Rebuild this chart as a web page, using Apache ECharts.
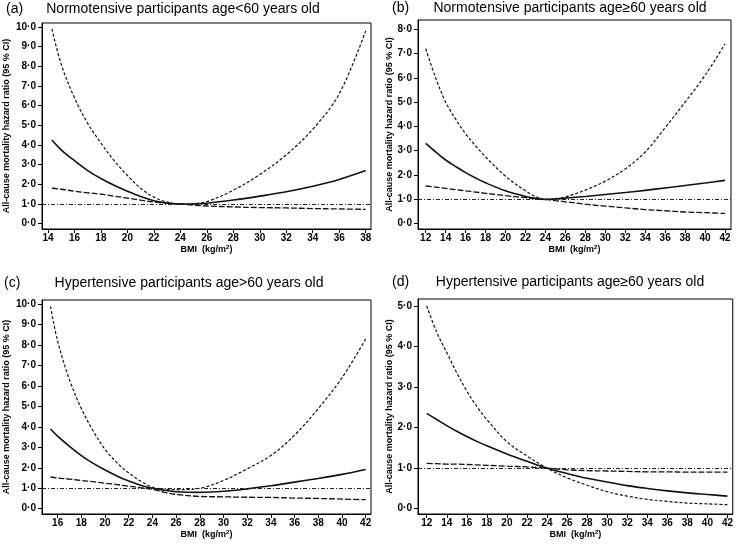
<!DOCTYPE html>
<html>
<head>
<meta charset="utf-8">
<script src="https://cdn.jsdelivr.net/npm/echarts@6/dist/echarts.min.js"></script>
<style>
  html, body { margin: 0; padding: 0; background: #fff; }
  #main { width: 736px; height: 548px; }
</style>
</head>
<body>
<div id="main"></div>
<script>
// ---- data ----
var titlesA = ['(a)', '(b)', '(c)', '(d)'];
var titles = [
  'Normotensive participants age<60 years old',
  'Normotensive participants age\u226560 years old',
  'Hypertensive participants age>60 years old',
  'Hypertensive participants age\u226560 years old'
];

// (a)
var bmiA   = [14.3, 15, 16, 17, 18, 19, 20, 21, 22, 23, 24, 25, 26, 28, 30, 32, 34, 36, 38];
var hrA    = [4.25, 3.75, 3.2, 2.7, 2.3, 1.95, 1.65, 1.38, 1.17, 1.05, 1.0, 1.0, 1.04, 1.2, 1.4, 1.62, 1.9, 2.25, 2.7];
var upA    = [9.9, 8.1, 6.4, 5.1, 4.1, 3.2, 2.45, 1.8, 1.35, 1.1, 1.0, 1.02, 1.12, 1.7, 2.5, 3.5, 4.8, 6.6, 9.8];
var loA    = [1.8, 1.75, 1.65, 1.57, 1.5, 1.4, 1.3, 1.2, 1.1, 1.04, 1.0, 0.94, 0.9, 0.85, 0.82, 0.8, 0.77, 0.75, 0.73];

// (b)
var bmiB   = [12, 13, 14, 15, 16, 17, 18, 20, 22, 23, 24, 25, 26, 28, 30, 32, 34, 36, 38, 40, 42];
var hrB    = [3.3, 2.95, 2.62, 2.35, 2.1, 1.88, 1.68, 1.35, 1.12, 1.04, 1.0, 1.02, 1.05, 1.12, 1.2, 1.28, 1.37, 1.47, 1.57, 1.67, 1.78];
var upB    = [7.2, 6.0, 5.0, 4.3, 3.7, 3.2, 2.75, 1.95, 1.35, 1.12, 1.0, 1.02, 1.1, 1.38, 1.75, 2.25, 2.95, 3.95, 5.0, 6.1, 7.4];
var loB    = [1.55, 1.5, 1.45, 1.4, 1.35, 1.3, 1.25, 1.15, 1.07, 1.03, 1.0, 0.95, 0.9, 0.8, 0.72, 0.65, 0.58, 0.53, 0.48, 0.45, 0.42];

// (c)
var bmiC   = [15.4, 16, 17, 18, 19, 20, 21, 22, 23, 24, 25, 26, 28, 30, 32, 34, 36, 38, 40, 42];
var hrC    = [3.9, 3.55, 3.05, 2.6, 2.22, 1.9, 1.6, 1.35, 1.15, 1.0, 0.9, 0.83, 0.8, 0.85, 0.97, 1.12, 1.3, 1.48, 1.68, 1.92];
var upC    = [9.9, 8.2, 6.3, 4.9, 3.8, 2.9, 2.25, 1.75, 1.35, 1.05, 0.95, 0.93, 1.0, 1.38, 1.95, 2.6, 3.6, 4.9, 6.4, 8.3];
var loC    = [1.55, 1.5, 1.45, 1.38, 1.32, 1.25, 1.18, 1.1, 1.03, 0.95, 0.8, 0.7, 0.6, 0.58, 0.56, 0.55, 0.52, 0.5, 0.47, 0.44];

// (d)
var bmiD   = [12, 13, 14, 15, 16, 17, 18, 20, 22, 24, 26, 28, 30, 32, 34, 36, 38, 40, 42];
var hrD    = [2.35, 2.2, 2.05, 1.91, 1.78, 1.66, 1.55, 1.35, 1.17, 1.0, 0.87, 0.75, 0.66, 0.57, 0.5, 0.44, 0.39, 0.35, 0.31];
var upD    = [5.0, 4.35, 3.85, 3.35, 2.9, 2.52, 2.2, 1.65, 1.3, 1.0, 0.76, 0.58, 0.42, 0.31, 0.23, 0.18, 0.14, 0.12, 0.1];
var loD    = [1.12, 1.11, 1.1, 1.1, 1.09, 1.08, 1.07, 1.05, 1.03, 1.0, 0.96, 0.94, 0.93, 0.92, 0.91, 0.91, 0.9, 0.9, 0.9];

var xTicksA = [14, 16, 18, 20, 22, 24, 26, 28, 30, 32, 34, 36, 38];
var xTicksB = [12, 14, 16, 18, 20, 22, 24, 26, 28, 30, 32, 34, 36, 38, 40, 42];
var xTicksC = [16, 18, 20, 22, 24, 26, 28, 30, 32, 34, 36, 38, 40, 42];
var yTicks10 = [0, 1, 2, 3, 4, 5, 6, 7, 8, 9, 10];
var yTicks8  = [0, 1, 2, 3, 4, 5, 6, 7, 8];
var yTicks5  = [0, 1, 2, 3, 4, 5];
var refHR = 1;

var FONT = '"Liberation Sans", Arial, sans-serif';

var panels = [
  { bmi: bmiA, hr: hrA, up: upA, lo: loA, xt: xTicksA, yt: yTicks10,
    grid: { left: 42, top: 23, width: 329, height: 206 }, x: [13.55, 38.4], y: [-0.27, 10.2], nameGap: 31 },
  { bmi: bmiB, hr: hrB, up: upB, lo: loB, xt: xTicksB, yt: yTicks8,
    grid: { left: 418, top: 20, width: 313, height: 209 }, x: [11.23, 42.6], y: [-0.22, 8.38], nameGap: 17 },
  { bmi: bmiC, hr: hrC, up: upC, lo: loC, xt: xTicksC, yt: yTicks10,
    grid: { left: 42, top: 300, width: 329, height: 214 }, x: [14.68, 42.45], y: [-0.26, 10.21], nameGap: 31 },
  { bmi: bmiD, hr: hrD, up: upD, lo: loD, xt: xTicksB, yt: yTicks5,
    grid: { left: 418, top: 299, width: 315, height: 215 }, x: [11.13, 42.53], y: [-0.13, 5.17], nameGap: 17 }
];

function pairs(xs, ys) {
  var out = [];
  for (var i = 0; i < xs.length; i++) out.push([xs[i], ys[i]]);
  return out;
}

var grids = [], xAxes = [], yAxes = [], series = [], graphics = [];

panels.forEach(function (p, i) {
  grids.push({
    left: p.grid.left, top: p.grid.top, width: p.grid.width, height: p.grid.height,
    show: true, borderColor: '#000', borderWidth: 1, containLabel: false
  });
  xAxes.push({
    gridIndex: i, type: 'value', min: p.x[0], max: p.x[1],
    splitLine: { show: false },
    axisLine: { show: true, onZero: false, lineStyle: { color: '#000', width: 1 } },
    axisTick: { show: true, length: 4, customValues: p.xt, lineStyle: { color: '#000' } },
    axisLabel: { customValues: p.xt, color: '#000', fontSize: 10, fontWeight: 'bold', fontFamily: FONT, margin: 4 },
    name: 'BMI  (kg/m{sup|2})', nameLocation: 'middle', nameGap: 13,
    nameTextStyle: {
      color: '#000', fontSize: 9, fontWeight: 'bold', fontFamily: FONT,
      rich: { sup: { fontSize: 6, fontWeight: 'bold', verticalAlign: 'top', padding: [0, 0, 5, 0], fontFamily: FONT } }
    }
  });
  yAxes.push({
    gridIndex: i, type: 'value', min: p.y[0], max: p.y[1],
    splitLine: { show: false },
    axisLine: { show: true, onZero: false, lineStyle: { color: '#000', width: 1 } },
    axisTick: { show: true, length: 4, customValues: p.yt, lineStyle: { color: '#000' } },
    axisLabel: {
      customValues: p.yt, color: '#000', fontSize: 10, fontWeight: 'bold', fontFamily: FONT, margin: 6,
      formatter: function (v) { return v.toFixed(1).replace('.', '\u00b7'); }
    },
    name: 'All-cause mortality hazard ratio (95 % CI)', nameLocation: 'middle', nameGap: p.nameGap,
    nameTextStyle: { color: '#000', fontSize: 9, fontWeight: 'bold', fontFamily: FONT }
  });

  // hazard ratio (solid) with reference line at 1
  series.push({
    type: 'line', xAxisIndex: i, yAxisIndex: i, data: pairs(p.bmi, p.hr),
    smooth: 0.35, symbol: 'none', lineStyle: { color: '#111', width: 1.6, type: 'solid' },
    markLine: {
      silent: true, symbol: 'none', label: { show: false },
      lineStyle: { color: '#222', width: 1, type: [4, 2, 1, 2] },
      data: [{ yAxis: refHR }]
    }
  });
  // upper CI
  series.push({
    type: 'line', xAxisIndex: i, yAxisIndex: i, data: pairs(p.bmi, p.up),
    smooth: 0.35, symbol: 'none', lineStyle: { color: '#111', width: 1.2, type: [3, 2] }
  });
  // lower CI
  series.push({
    type: 'line', xAxisIndex: i, yAxisIndex: i, data: pairs(p.bmi, p.lo),
    smooth: 0.35, symbol: 'none', lineStyle: { color: '#111', width: 1.3, type: [6, 2] }
  });
});

// panel headings
var headPos = [[6, 9, 183], [392, 8, 570], [4, 283, 189], [392, 282, 570]];
headPos.forEach(function (h, i) {
  graphics.push({ type: 'text', x: h[0], y: h[1],
    style: { text: titlesA[i], font: '14px ' + FONT, fill: '#000', textVerticalAlign: 'middle' } });
  graphics.push({ type: 'text', x: h[2], y: h[1],
    style: { text: titles[i], font: '14px ' + FONT, fill: '#000', textAlign: 'center', textVerticalAlign: 'middle' } });
});

var myChart = echarts.init(document.getElementById('main'), null, { renderer: 'canvas' });
myChart.setOption({
  animation: false,
  backgroundColor: '#fff',
  grid: grids,
  xAxis: xAxes,
  yAxis: yAxes,
  series: series,
  graphic: graphics
});
</script>
</body>
</html>
